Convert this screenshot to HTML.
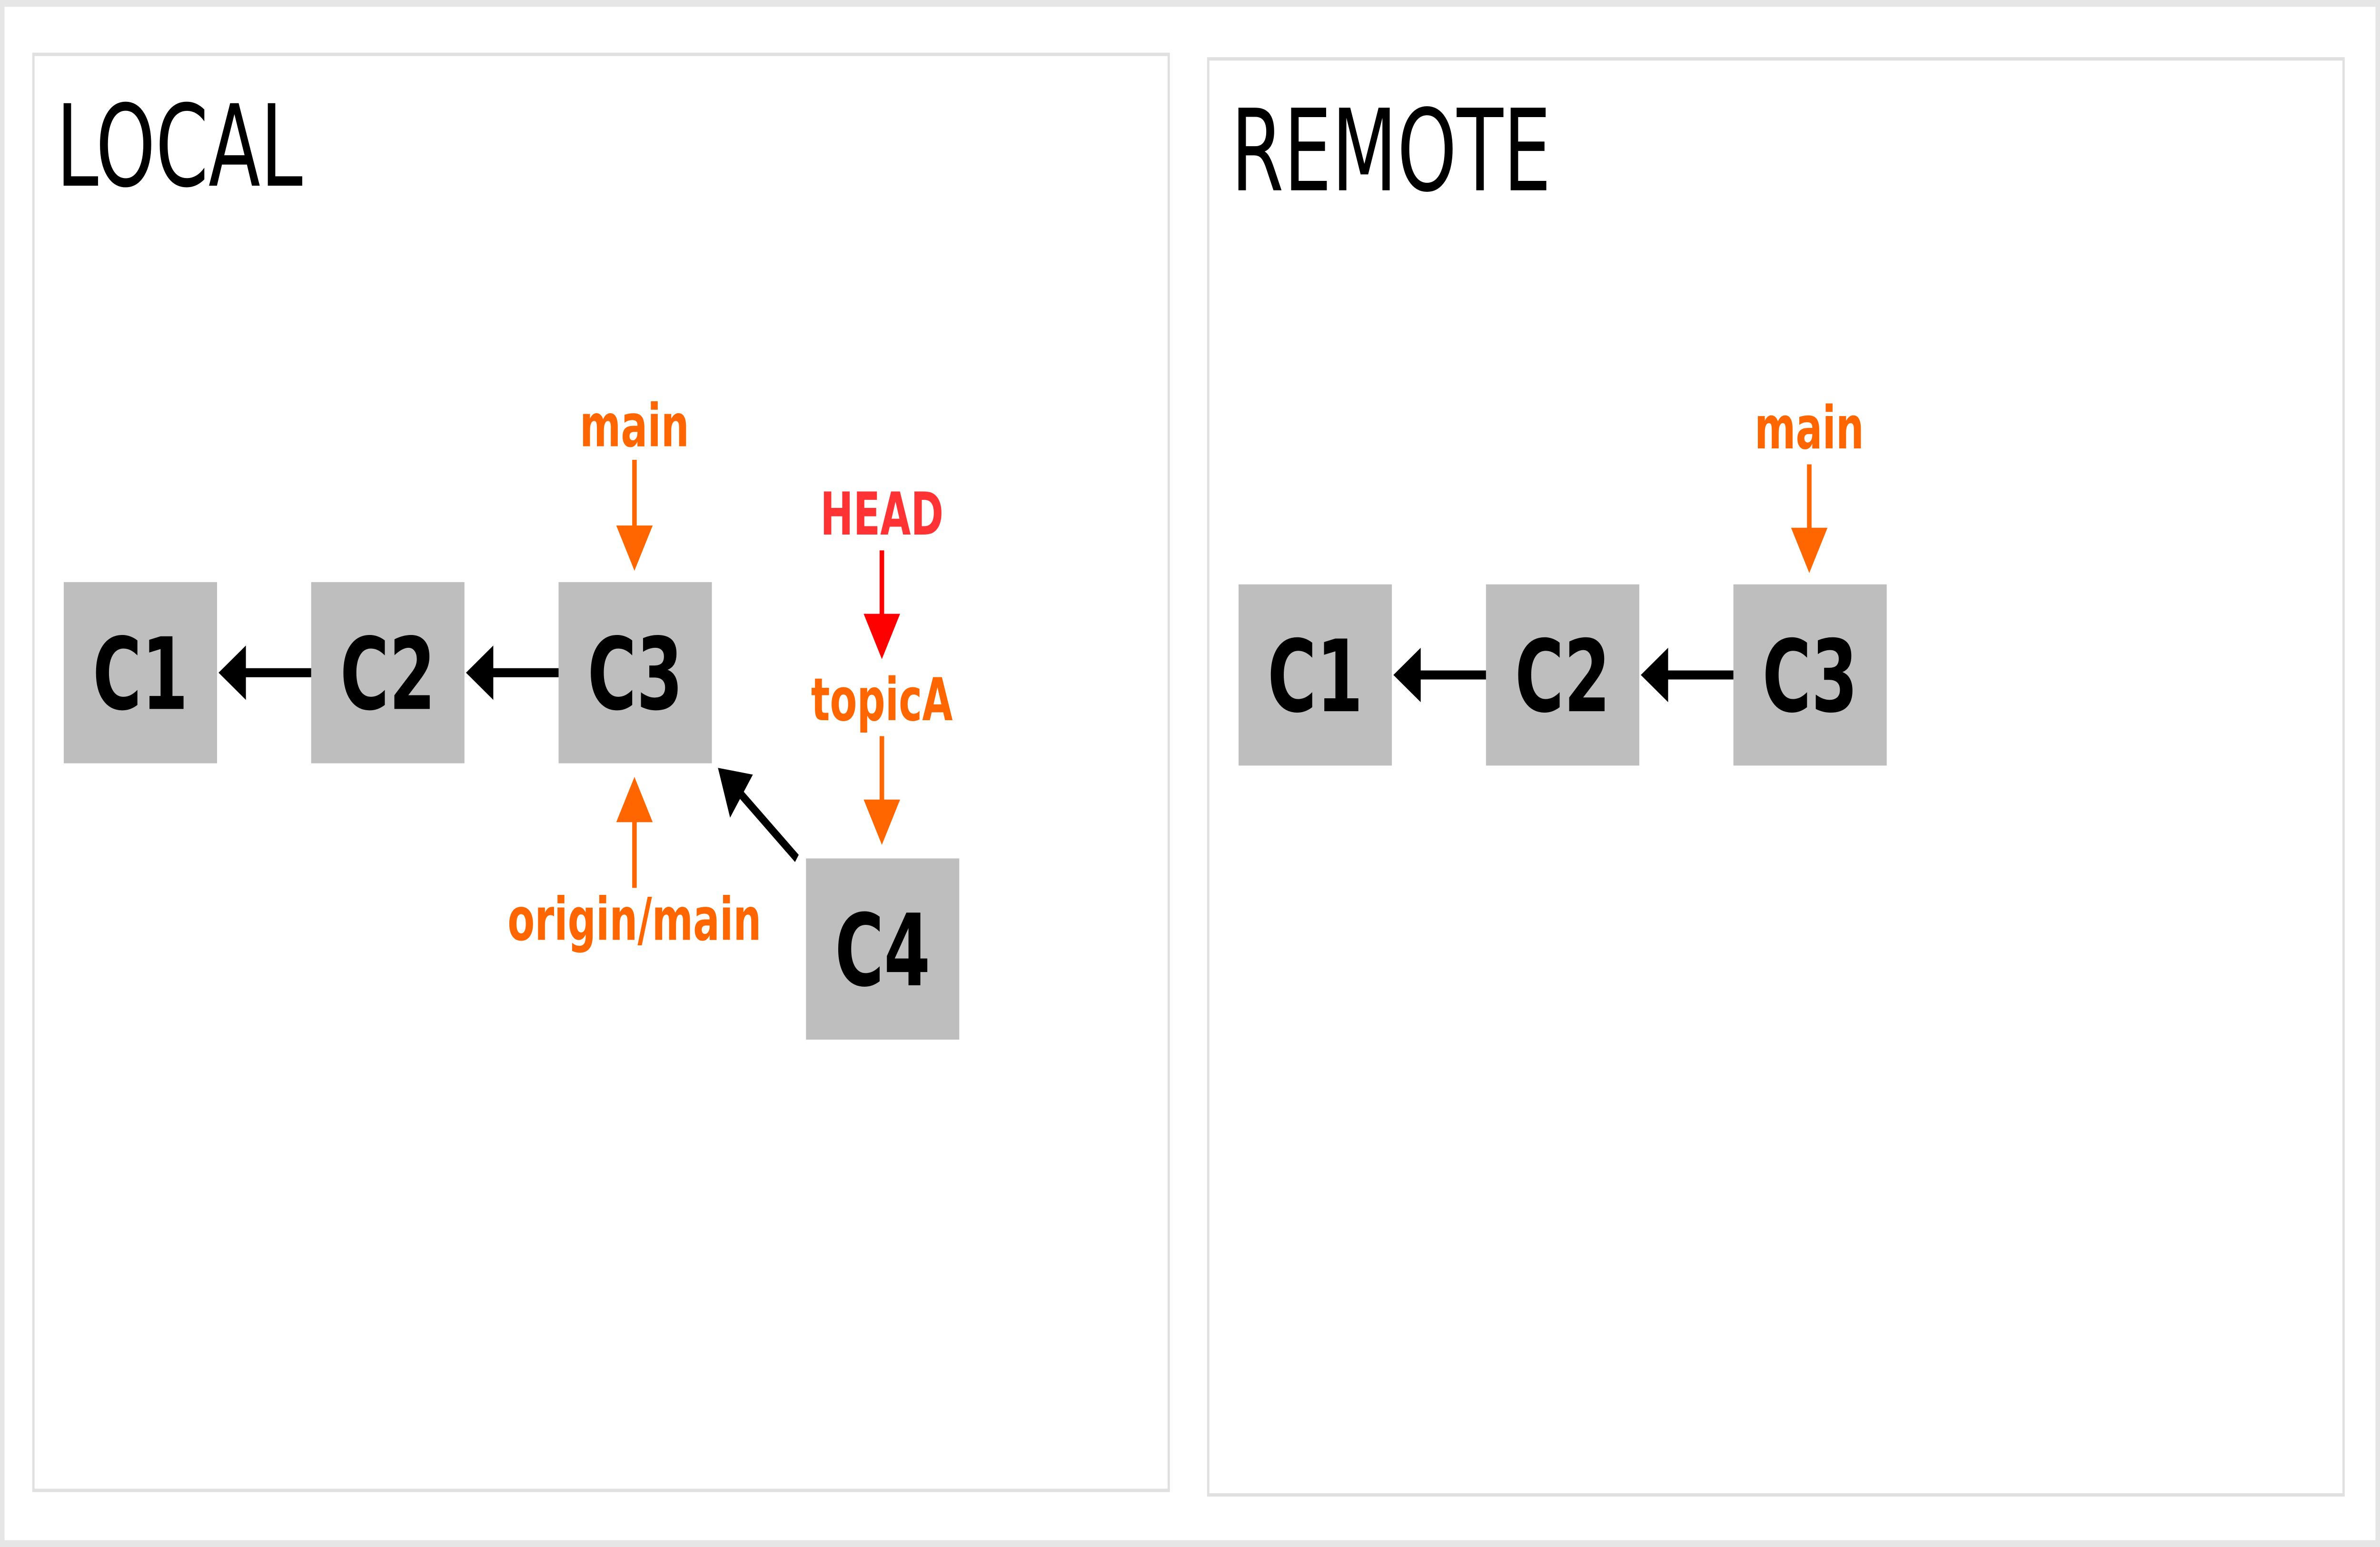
<!DOCTYPE html>
<html><head><meta charset="utf-8"><style>
html,body{margin:0;padding:0;background:#fff;width:100%;height:100%;overflow:hidden;}
svg{display:block;position:absolute;left:0;top:0;width:100vw;height:100vh;}
</style></head><body>
<svg viewBox="0 0 1568 683" preserveAspectRatio="none" xmlns="http://www.w3.org/2000/svg">
<rect x="1.5" y="1.5" width="1565" height="680" fill="#fff" stroke="#e6e6e6" stroke-width="3"/>
<rect x="22" y="24" width="748" height="634" fill="none" stroke="#e0e0e0" stroke-width="1.5"/>
<rect x="796" y="26" width="748" height="634" fill="none" stroke="#e0e0e0" stroke-width="1.5"/>
<g font-family="'DejaVu Sans','Liberation Sans',sans-serif">
<text x="37" y="82" font-size="50" fill="#000">LOCAL</text>
<text x="811" y="84" font-size="50" fill="#000">REMOTE</text>
<g fill="#bebebe">
<rect x="42" y="257" width="101" height="80"/>
<rect x="205" y="257" width="101" height="80"/>
<rect x="368" y="257" width="101" height="80"/>
<rect x="531" y="379" width="101" height="80"/>
<rect x="816" y="258" width="101" height="80"/>
<rect x="979" y="258" width="101" height="80"/>
<rect x="1142" y="258" width="101" height="80"/>
</g>
<g font-weight="bold" font-size="44" fill="#000" text-anchor="middle">
<text x="92.5" y="313">C1</text>
<text x="255.5" y="313">C2</text>
<text x="418.5" y="313">C3</text>
<text x="581.5" y="435">C4</text>
<text x="866.5" y="314">C1</text>
<text x="1029.5" y="314">C2</text>
<text x="1192.5" y="314">C3</text>
</g>
<g font-weight="bold" font-size="26" text-anchor="middle">
<text x="418" y="197" fill="#ff6600">main</text>
<text x="581" y="236" fill="#ff3333">HEAD</text>
<text x="581" y="318" fill="#ff6600">topicA</text>
<text x="418" y="415" fill="#ff6600">origin/main</text>
<text x="1192" y="198" fill="#ff6600">main</text>
</g>
</g>
<g stroke="#000" stroke-width="4">
<line x1="205" y1="297" x2="160" y2="297"/>
<line x1="368" y1="297" x2="323" y2="297"/>
<line x1="979" y1="298" x2="934" y2="298"/>
<line x1="1142" y1="298" x2="1097" y2="298"/>
<line x1="525" y1="379" x2="486" y2="349"/>
</g>
<g fill="#000">
<polygon points="144,297 162,285 162,309"/>
<polygon points="307,297 325,285 325,309"/>
<polygon points="918,298 936,286 936,310"/>
<polygon points="1081,298 1099,286 1099,310"/>
<polygon points="473,339 496,342 481,361"/>
</g>
<g stroke-width="3">
<line x1="418" y1="203" x2="418" y2="233" stroke="#ff6600"/>
<line x1="581" y1="243" x2="581" y2="272" stroke="#ff0000"/>
<line x1="581" y1="325" x2="581" y2="354" stroke="#ff6600"/>
<line x1="418" y1="362" x2="418" y2="392" stroke="#ff6600"/>
<line x1="1192" y1="205" x2="1192" y2="234" stroke="#ff6600"/>
</g>
<polygon points="406,232 430,232 418,252" fill="#ff6600"/>
<polygon points="569,271 593,271 581,291" fill="#ff0000"/>
<polygon points="569,353 593,353 581,373" fill="#ff6600"/>
<polygon points="406,363 430,363 418,343" fill="#ff6600"/>
<polygon points="1180,233 1204,233 1192,253" fill="#ff6600"/>
</svg>
</body></html>
